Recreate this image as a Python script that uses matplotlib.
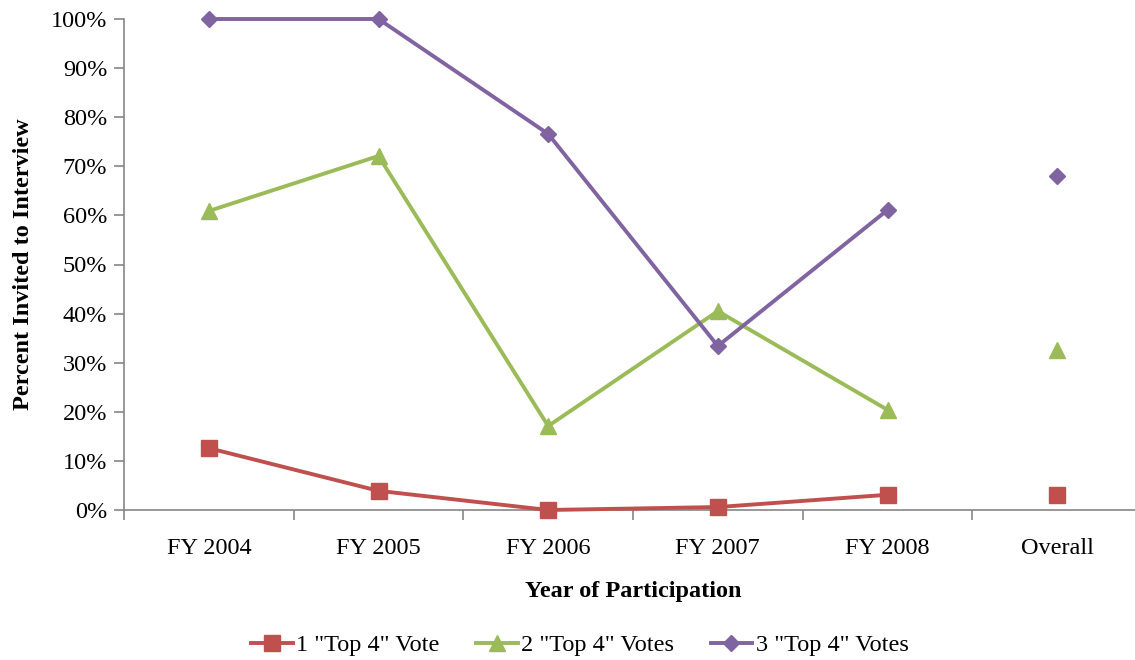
import matplotlib.pyplot as plt
from matplotlib.ticker import FuncFormatter

plt.rcParams['font.family'] = ['Liberation Serif', 'DejaVu Serif']

categories = ['FY 2004', 'FY 2005', 'FY 2006', 'FY 2007', 'FY 2008', 'Overall']
one_vote = [12.6, 3.9, 0.0, 0.6, 3.1, 3.1]
two_votes = [60.9, 72.1, 17.1, 40.5, 20.4, 32.6]
three_votes = [100.0, 100.0, 76.6, 33.4, 61.1, 68.0]

series = [
    ('1 "Top 4" Vote', one_vote, '#C0504D', 's', 11),
    ('2 "Top 4" Votes', two_votes, '#9BBB59', '^', 12),
    ('3 "Top 4" Votes', three_votes, '#8064A2', 'D', 8.5),
]

fig = plt.figure(figsize=(11.35, 6.6), dpi=100)
ax = fig.add_axes([124 / 1135, 1 - 510 / 660, 1018 / 1135, 491 / 660])

x = list(range(len(categories)))
handles = []
for label, vals, color, marker, ms in series:
    # yearly values joined by a line, overall shown as a lone marker
    h, = ax.plot(x[:5], vals[:5], color=color, lw=2.8, marker=marker,
                 markersize=ms, label=label, clip_on=False, zorder=3)
    ax.plot(x[5], vals[5], color=color, marker=marker, markersize=ms,
            linestyle='none', clip_on=False, zorder=3)
    handles.append(h)

ax.set_xlim(-0.5, len(categories) - 0.5)
ax.set_ylim(0, 100)
ax.set_yticks(range(0, 101, 10))
ax.yaxis.set_major_formatter(FuncFormatter(lambda v, p: f'{int(v)}%'))

ax.set_xticks(x)
ax.set_xticklabels(categories)
ax.set_xticks([i - 0.5 for i in range(len(categories) + 1)], minor=True)
ax.tick_params(axis='x', which='major', length=0, pad=20, labelsize=17.5)
ax.tick_params(axis='x', which='minor', length=7, width=1.2, color='#868686', direction='out')
ax.tick_params(axis='y', length=7, width=1.2, color='#868686', labelsize=17.5, pad=5)

for s in ['top', 'right']:
    ax.spines[s].set_visible(False)
for s in ['left', 'bottom']:
    ax.spines[s].set_color('#868686')
    ax.spines[s].set_linewidth(1.2)

ax.set_xlabel('Year of Participation', fontsize=17.5, fontweight='bold', labelpad=16)
ax.set_ylabel('Percent Invited to Interview', fontsize=17.5, fontweight='bold', labelpad=12)

fig.legend(handles=handles, loc='center', bbox_to_anchor=(580 / 1135, 1 - 645 / 660),
           ncol=3, frameon=False, fontsize=17.5, handlelength=1.7, columnspacing=1.5,
           handletextpad=0.15)

fig.savefig('out.png', dpi=100)
